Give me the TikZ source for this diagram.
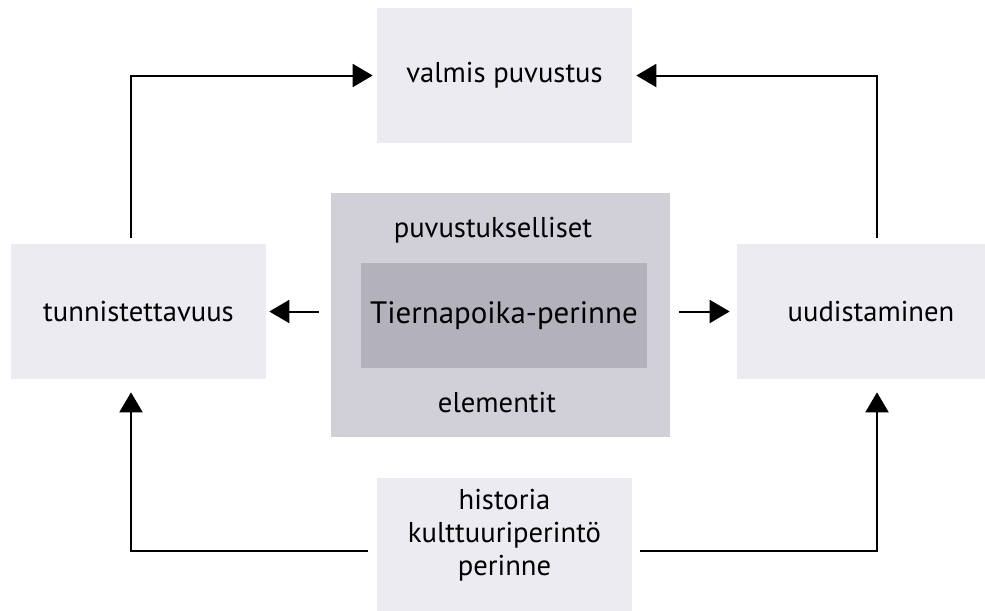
\documentclass[tikz,border=0pt]{standalone}
\usepackage{fontspec}
\setmainfont{PT Sans}
\usepackage{tikz}
\usetikzlibrary{arrows.meta}

\definecolor{boxlight}{HTML}{ECEBF2}
\definecolor{boxmid}{HTML}{D1D0D9}
\definecolor{boxdark}{HTML}{B3B1BB}

\tikzset{
  lbox/.style={fill=boxlight, inner sep=0pt, minimum width=5.1cm, minimum height=2.7cm,
    font=\fontsize{16.3}{19}\selectfont, align=center},
  txt/.style={inner sep=0pt, font=\fontsize{16.3}{19}\selectfont, align=center},
  arr/.style={line width=0.04cm, -{Triangle[length=0.4cm,width=0.46cm]}},
}

\begin{document}
\begin{tikzpicture}[x=0.02cm,y=-0.02cm]
        \useasboundingbox (0,0) rectangle (985,610);
        \begin{scope}
        \clip (0,0) rectangle (985,610);
        \node[lbox] (valmis) at (504.5,75.5) {valmis puvustus};
        \node[lbox] (tun) at (138.5,311.5) {tunnistettavuus};
        \node[lbox, minimum width=5.36cm] (uud) at (871,311.5) {uudistaminen};
        \node[lbox] (hist) at (504.5,545.5) {};
        \node[fill=boxmid, inner sep=0pt, minimum width=6.78cm, minimum height=4.88cm] (elem) at (500.5,315) {};
        \node[fill=boxdark, inner sep=0pt, minimum width=5.72cm, minimum height=2.1cm,
              font=\fontsize{17.6}{22}\selectfont] (tier) at (504,315.5) {Tiernapoika-perinne};
        \end{scope}
        \node[txt] (puv) at (493,230) {puvustukselliset};
        \node[txt] (elt) at (497,403) {elementit};
        \node[txt, font=\fontsize{16.3}{18.8}\selectfont] (histtxt) at (504.5,535) {historia\\kulttuuriperintö\\perinne};
        % arrows up to the finished costume
        \draw[arr, shorten <=0.12cm, shorten >=0.08cm] ([xshift=-0.15cm]tun.north) |- (valmis.west);
        \draw[arr, shorten <=0.12cm, shorten >=0.08cm] ([xshift=0.12cm]uud.north) |- (valmis.east);
        % side arrows
        \draw[arr, shorten <=0.24cm, shorten >=0.06cm] (elem.west |- tun.east) -- (tun.east);
        \draw[arr, shorten <=0.18cm, shorten >=0.14cm] (elem.east |- uud.west) -- (uud.west);
        % arrows from the bottom box
        \draw[arr, shorten <=0.18cm, shorten >=0.26cm] ([yshift=-0.11cm]hist.west) -| ([xshift=-0.15cm]tun.south);
        \draw[arr, shorten <=0.16cm, shorten >=0.26cm] ([yshift=-0.11cm]hist.east) -| ([xshift=0.12cm]uud.south);
    \end{tikzpicture}
\end{document}
